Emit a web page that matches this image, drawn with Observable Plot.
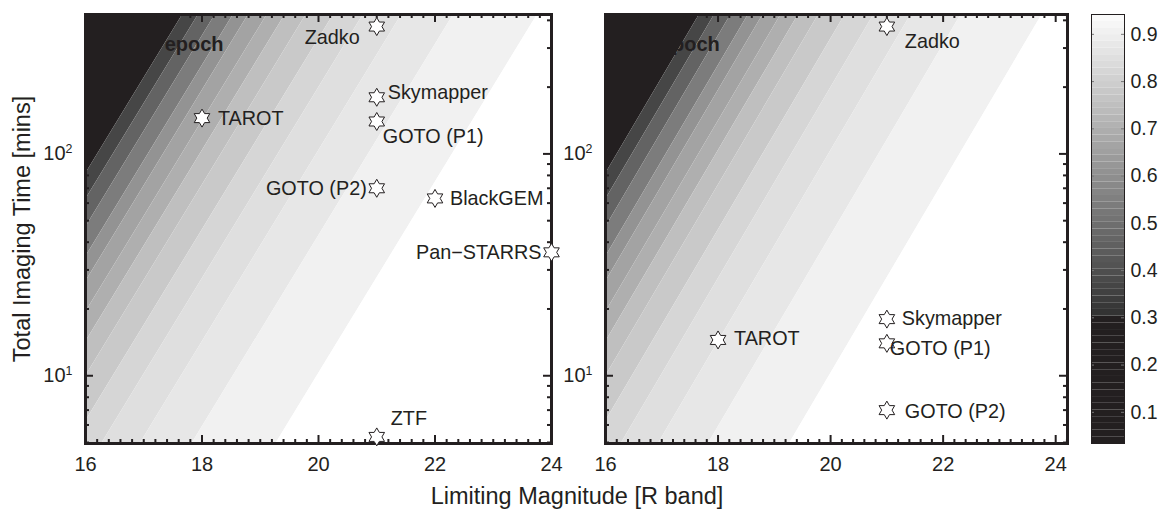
<!DOCTYPE html>
<html><head><meta charset="utf-8">
<script src="https://cdn.jsdelivr.net/npm/d3@7"></script>
<script src="https://cdn.jsdelivr.net/npm/@observablehq/plot@0.6"></script>
<style>
body{margin:0;background:#fff;font-family:"Liberation Sans",Arial,sans-serif;}
#wrap{position:relative;width:1165px;height:512px;overflow:hidden;background:#fff}
#wrap svg{position:absolute;top:0;overflow:visible}
.ttl{position:absolute;color:#231f20;font-size:23.5px;white-space:nowrap;transform:translate(-50%,-50%)}
</style></head><body><div id="wrap">
<div class="ttl" style="left:577px;top:496px">Limiting Magnitude [R band]</div>
<div class="ttl" style="left:22px;top:229px;transform:translate(-50%,-50%) rotate(-90deg)">Total Imaging Time [mins]</div>
</div>
<script>
// ---------------- data ----------------
// Contour band edges (straight lines in magnitude vs log time), magnitude where each edge meets the bottom / top of the plot
const edgeTimes = [4.95, 425];
const edgeMagAtBottom = [13.18, 13.45, 13.74, 14.05, 14.31, 14.63, 14.94, 15.30, 15.77, 16.28, 16.94, 17.83, 19.27];
const edgeMagAtTop    = [17.67, 17.94, 18.23, 18.54, 18.80, 19.12, 19.43, 19.79, 20.26, 20.77, 21.43, 22.32, 23.76];
// probability value of each filled band (left of first edge ... right of last edge)
const bandLevels = [0.2, 0.37, 0.46, 0.54, 0.61, 0.66, 0.70, 0.75, 0.78, 0.82, 0.85, 0.875, 0.905, 0.95];

// telescopes, left panel
const leftNames = ["Zadko", "Skymapper", "GOTO (P1)", "TAROT", "GOTO (P2)", "BlackGEM", "Pan\u2212STARRS", "ZTF"];
const leftMag   = [21, 21, 21, 18, 21, 22, 24, 21];
const leftTime  = [375, 180, 140, 145, 70, 63, 36, 5.3];
// telescopes, right panel
const rightNames = ["Zadko", "Skymapper", "GOTO (P1)", "TAROT", "GOTO (P2)"];
const rightMag   = [21, 21, 21, 18, 21];
const rightTime  = [375, 18, 14, 14.5, 7];
// band annotation (mostly hidden in the black band)
const epochText = "Single epoch";
const epochMag  = [18.37, 18.03];
const epochTime = [310, 310];

const xTickValues = [16, 18, 20, 22, 24];
const yTickValues = [10, 100];
const colorbarTicks = [0.1, 0.2, 0.3, 0.4, 0.5, 0.6, 0.7, 0.8, 0.9];

// ---------------- styling / layout ----------------
const INK = "#231f20";
const FONT = "Liberation Sans, Arial, sans-serif";
const colorScale = {type: "linear", domain: [0.03, 0.3, 0.31, 0.95], range: [INK, INK, "#333333", "#ffffff"], clamp: true};
// label placements (offset from star, text anchor)
const leftPlace = {
  "Zadko": [-17, 11, "end"], "Skymapper": [11, -5, "start"], "GOTO (P1)": [6, 15, "start"],
  "TAROT": [16, 1, "start"], "GOTO (P2)": [-10, 0, "end"], "BlackGEM": [15, 0, "start"],
  "Pan\u2212STARRS": [-10, 0, "end"], "ZTF": [14, -18, "start"]
};
const rightPlace = {
  "Zadko": [18, 15, "start"], "Skymapper": [15, 0, "start"], "GOTO (P1)": [3, 5, "start"],
  "TAROT": [16, -1, "start"], "GOTO (P2)": [18, 2, "start"]
};

const hexagram = {
  draw(context, size) {
    const R = Math.sqrt(size / Math.PI), r = R / Math.sqrt(3);
    for (let i = 0; i < 12; i++) {
      const a = -Math.PI / 2 + i * Math.PI / 6, rr = i % 2 === 0 ? R : r;
      const x = rr * Math.cos(a), y = rr * Math.sin(a);
      if (i === 0) context.moveTo(x, y); else context.lineTo(x, y);
    }
    context.closePath();
  }
};

// build band polygons from the edges
const bands = [];
bandLevels.forEach((lev, i) => {
  const lb = i === 0 ? 0 : edgeMagAtBottom[i - 1];
  const lt = i === 0 ? 0 : edgeMagAtTop[i - 1];
  const rb = i === bandLevels.length - 1 ? 40 : edgeMagAtBottom[i];
  const rt = i === bandLevels.length - 1 ? 40 : edgeMagAtTop[i];
  bands.push({band: i, t: edgeTimes[0], x1: lb, x2: rb, level: lev});
  bands.push({band: i, t: edgeTimes[1], x1: lt, x2: rt, level: lev});
});

const H = 475, MT = 14, MB = 32;
const innerH = H - MT - MB;
const yMinor = [5, 6, 7, 8, 9, 20, 30, 40, 50, 60, 70, 80, 90, 200, 300, 400];

function panel({xDomain, width, ml, mr, names, mags, times, place, epochIdx}) {
  const innerW = width - ml - mr;
  const xMinor = d3.range(16, xDomain[1] + 1e-9, 0.2).filter(v => Math.abs(v / 2 - Math.round(v / 2)) > 1e-6);
  const pts = names.map((n, i) => ({name: n, mag: mags[i], t: times[i]}));
  const tickStyle = {stroke: INK, strokeWidth: 2};
  const marks = [
    Plot.areaX(bands, {y: "t", x1: "x1", x2: "x2", z: "band", fill: "level", clip: true}),
    Plot.text([0], {x: () => epochMag[epochIdx], y: () => epochTime[epochIdx], text: () => epochText,
      textAnchor: "end", fontWeight: "bold", fontSize: 20, fill: INK, clip: true}),
    // ticks pointing inward
    Plot.tickX(xMinor, {x: d => d, insetTop: innerH - 4, ...tickStyle}),
    Plot.tickX(xMinor, {x: d => d, insetBottom: innerH - 4, ...tickStyle}),
    Plot.tickX(xTickValues, {x: d => d, insetTop: innerH - 8, ...tickStyle}),
    Plot.tickX(xTickValues, {x: d => d, insetBottom: innerH - 8, ...tickStyle}),
    Plot.tickY(yMinor, {y: d => d, insetRight: innerW - 4, ...tickStyle}),
    Plot.tickY(yMinor, {y: d => d, insetLeft: innerW - 4, ...tickStyle}),
    Plot.tickY(yTickValues, {y: d => d, insetRight: innerW - 8, ...tickStyle}),
    Plot.tickY(yTickValues, {y: d => d, insetLeft: innerW - 8, ...tickStyle}),
    Plot.frame({stroke: INK, strokeWidth: 3}),
    Plot.axisX({ticks: xTickValues, tickSize: 0, tickPadding: 13, tickFormat: d => String(d), fontSize: 20}),
    Plot.axisY({ticks: yTickValues, tickSize: 0, tickPadding: 13, tickFormat: d => "10^" + Math.round(Math.log10(d)), fontSize: 20}),
    Plot.dot(pts, {x: "mag", y: "t", r: 9, symbol: hexagram, fill: "white", stroke: INK, strokeWidth: 1})
  ];
  pts.forEach(p => {
    const [dx, dy, anchor] = place[p.name];
    marks.push(Plot.text([p], {x: "mag", y: "t", text: "name", dx, dy, textAnchor: anchor, fontSize: 19.8, fill: INK}));
  });
  const svg = Plot.plot({
    width, height: H, marginLeft: ml, marginRight: mr, marginTop: MT, marginBottom: MB,
    style: {fontFamily: FONT, color: INK, background: "transparent", overflow: "visible"},
    x: {domain: xDomain, label: null},
    y: {type: "log", domain: [edgeTimes[0], edgeTimes[1]], label: null},
    color: colorScale,
    marks
  });
  d3.select(svg).selectAll('[aria-label="y-axis tick label"] text').each(function () {
    const s = this.textContent;
    if (s.includes("^")) {
      const [b, e] = s.split("^");
      this.textContent = b;
      d3.select(this).append("tspan").attr("dy", "-0.55em").attr("font-size", "0.62em").text(e);
    }
  });
  return svg;
}

const wrap = document.getElementById("wrap");
const left = panel({xDomain: [16, 24], width: 575, ml: 85, mr: 24, names: leftNames, mags: leftMag, times: leftTime, place: leftPlace, epochIdx: 0});
left.style.left = "0px";
wrap.appendChild(left);
const right = panel({xDomain: [16, 24.21], width: 520, ml: 45, mr: 13, names: rightNames, mags: rightMag, times: rightTime, place: rightPlace, epochIdx: 1});
right.style.left = "560px";
wrap.appendChild(right);

// colorbar
const cbN = 64, cbLo = 0.034, cbHi = 0.942, cbStep = (cbHi - cbLo) / cbN;
const cbCells = d3.range(cbN).map(i => ({y1: cbLo + i * cbStep, y2: cbLo + (i + 1) * cbStep, v: cbLo + (i + 0.5) * cbStep}));
const cbW = 33;
const cb = Plot.plot({
  width: 85, height: H, marginLeft: 11, marginRight: 41, marginTop: MT, marginBottom: MB,
  style: {fontFamily: FONT, color: INK, background: "transparent", overflow: "visible"},
  x: {domain: [0, 1], axis: null},
  y: {domain: [cbLo, cbHi], label: null},
  color: colorScale,
  marks: [
    Plot.rect(cbCells, {x1: 0, x2: 1, y1: "y1", y2: "y2", fill: "v"}),
    Plot.tickY(colorbarTicks, {y: d => d, insetRight: cbW - 3, stroke: "#777", strokeWidth: 1}),
    Plot.tickY(colorbarTicks, {y: d => d, insetLeft: cbW - 3, stroke: "#777", strokeWidth: 1}),
    Plot.frame({stroke: INK, strokeWidth: 1}),
    Plot.axisY({anchor: "right", ticks: colorbarTicks, tickSize: 0, tickPadding: 6, tickFormat: ".1f", fontSize: 19.5})
  ]
});
cb.style.left = "1080px";
wrap.appendChild(cb);
</script></body></html>
